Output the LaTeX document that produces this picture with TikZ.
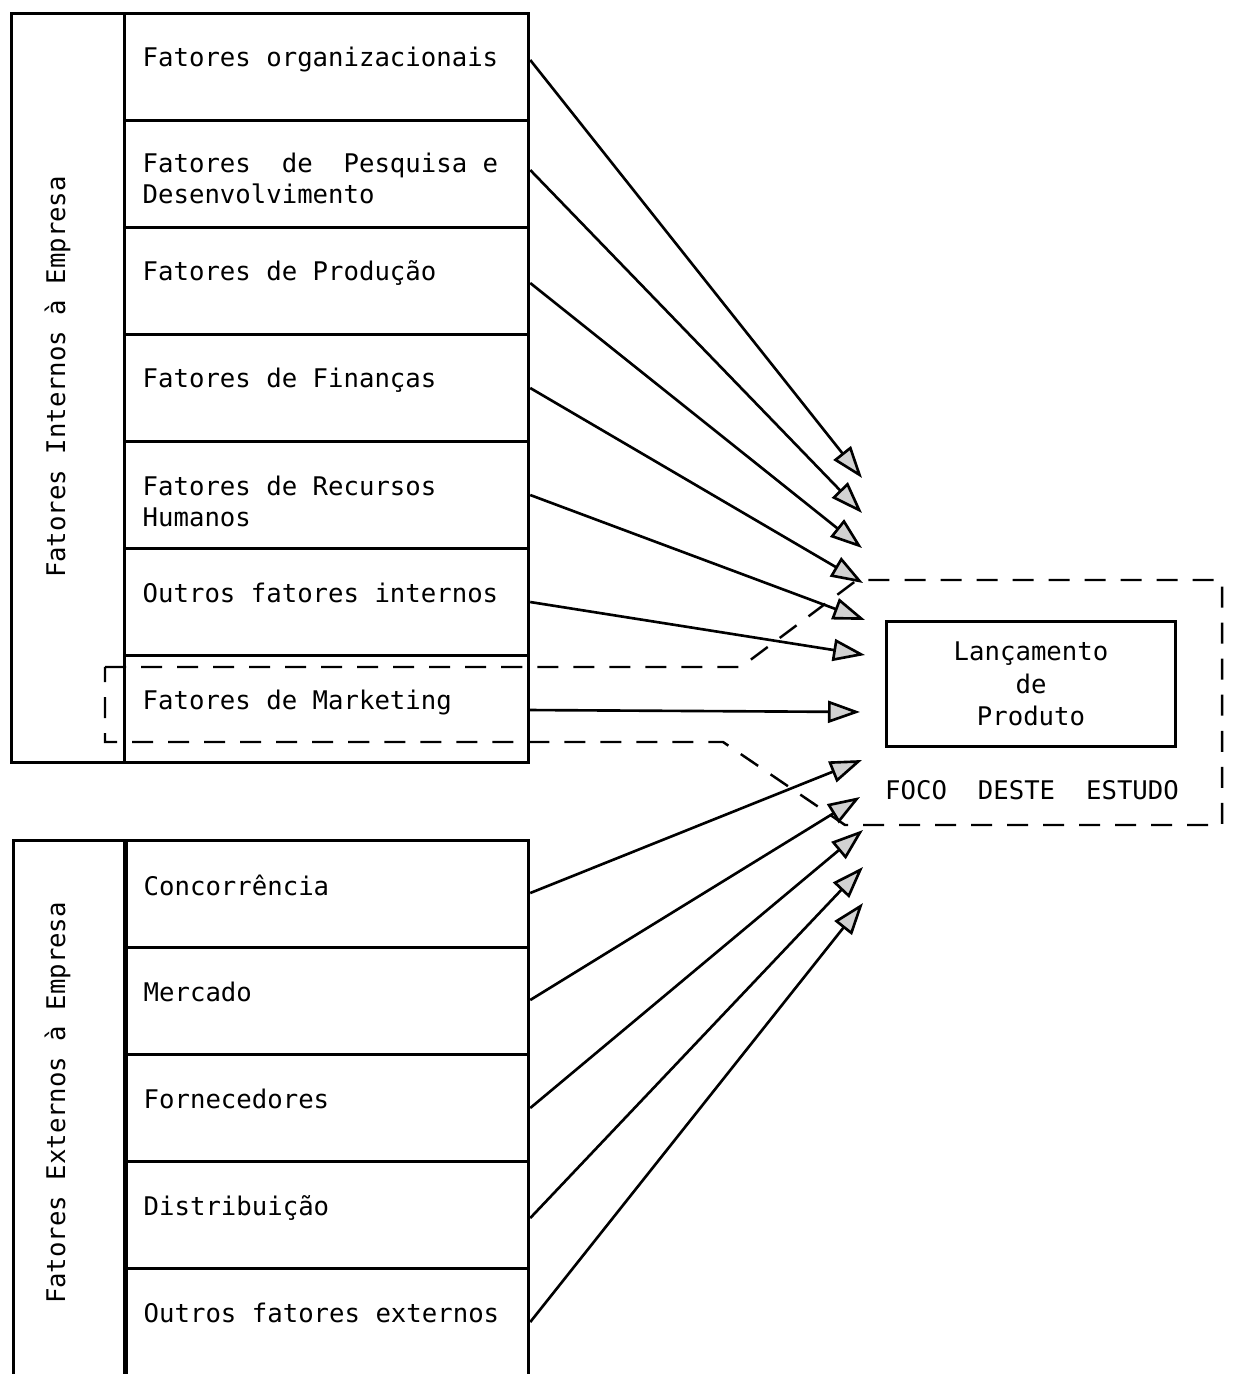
\documentclass[tikz,border=0pt]{standalone}
\usepackage{fontspec}
\setmonofont{DejaVu Sans Mono}
\usetikzlibrary{arrows.meta}

\tikzset{
  cell/.style={draw, line width=0.85pt, anchor=north west, inner sep=0pt,
    minimum width=4.04cm, minimum height=1.07cm},
  grpbox/.style={draw, line width=0.85pt, anchor=north west, inner sep=0pt,
    minimum width=1.13cm},
  txt/.style={font=\ttfamily\fontsize{7.3}{8.8}\selectfont, inner sep=0pt,
    anchor=north west, align=left},
  grplabel/.style={font=\ttfamily\fontsize{7.3}{8.8}\selectfont, inner sep=0pt,
    rotate=90, anchor=base},
  fator/.style={line width=0.75pt,
    -{Triangle[length=0.32cm, width=0.22cm, fill=gray!35, line width=0.75pt]}},
  foco/.style={line width=0.7pt, dash pattern=on 0.21cm off 0.15cm},
}

\begin{document}
\begin{tikzpicture}[x=0.01cm, y=-0.01cm]
  \useasboundingbox (0,0) rectangle (1232,1374);

  % fatores internos
  \node[grpbox, minimum height=7.49cm] (intern) at (10,12) {};
  \node[grplabel] (intlbl) at (65,377) {Fatores Internos à Empresa};
  \node[cell] (c1) at (123,12)  {};
  \node[cell] (c2) at (123,119) {};
  \node[cell] (c3) at (123,226) {};
  \node[cell] (c4) at (123,333) {};
  \node[cell] (c5) at (123,440) {};
  \node[cell] (c6) at (123,547) {};
  \node[cell] (c7) at (123,654) {};
  \node[txt] (t1) at ([xshift=0.19cm, yshift=-0.34cm]c1.north west) {Fatores organizacionais};
  \node[txt] (t2) at ([xshift=0.19cm, yshift=-0.33cm]c2.north west) {Fatores~~de~~Pesquisa e\\Desenvolvimento};
  \node[txt] (t3) at ([xshift=0.19cm, yshift=-0.34cm]c3.north west) {Fatores de Produção};
  \node[txt] (t4) at ([xshift=0.19cm, yshift=-0.34cm]c4.north west) {Fatores de Finanças};
  \node[txt] (t5) at ([xshift=0.19cm, yshift=-0.35cm]c5.north west) {Fatores de Recursos\\Humanos};
  \node[txt] (t6) at ([xshift=0.19cm, yshift=-0.35cm]c6.north west) {Outros fatores internos};
  \node[txt] (t7) at ([xshift=0.19cm, yshift=-0.35cm]c7.north west) {Fatores de Marketing};

  % fatores externos
  \node[grpbox, minimum height=5.35cm] (extern) at (12,839) {};
  \node[grplabel] (extlbl) at (65,1103) {Fatores Externos à Empresa};
  \node[cell] (e1) at (123,839)  {};
  \node[cell] (e2) at (123,946)  {};
  \node[cell] (e3) at (123,1053) {};
  \node[cell] (e4) at (123,1160) {};
  \node[cell] (e5) at (123,1267) {};
  \node[txt] (s1) at ([xshift=0.2cm, yshift=-0.35cm]e1.north west) {Concorrência};
  \node[txt] (s2) at ([xshift=0.2cm, yshift=-0.35cm]e2.north west) {Mercado};
  \node[txt] (s3) at ([xshift=0.2cm, yshift=-0.35cm]e3.north west) {Fornecedores};
  \node[txt] (s4) at ([xshift=0.2cm, yshift=-0.35cm]e4.north west) {Distribuição};
  \node[txt] (s5) at ([xshift=0.2cm, yshift=-0.35cm]e5.north west) {Outros fatores externos};

  % lancamento
  \node[draw, line width=0.85pt, minimum width=2.88cm, minimum height=1.24cm,
    font=\ttfamily\fontsize{7.3}{9.2}\selectfont, align=center] (lanc) at (1031,684)
    {Lançamento\\de\\Produto};
  \node[txt, anchor=center] (estudo) at (1032,790) {FOCO~~DESTE~~ESTUDO};

  % foco (dashed)
  \coordinate (mk1) at (105,667);
  \coordinate (mk2) at (741,667);
  \coordinate (fc1) at (857,580);
  \coordinate (fc2) at (1222,580);
  \coordinate (fc3) at (1222,825);
  \coordinate (fc4) at (845,825);
  \coordinate (mk3) at (723,742);
  \coordinate (mk4) at (105,742);
  \draw[foco] (mk1) -- (mk2) -- (fc1) -- (fc2) -- (fc3) -- (fc4) -- (mk3) -- (mk4) -- cycle;

  % arrow tips
  \coordinate (tip1)  at (862,478);
  \coordinate (tip2)  at (862,513);
  \coordinate (tip3)  at (862,548);
  \coordinate (tip4)  at (863,583);
  \coordinate (tip5)  at (865,620);
  \coordinate (tip6)  at (865,655);
  \coordinate (tip7)  at (860,712);
  \coordinate (tip8)  at (862,760);
  \coordinate (tip9)  at (860,797);
  \coordinate (tip10) at (863,830);
  \coordinate (tip11) at (863,867);
  \coordinate (tip12) at (863,903);

  \draw[fator] ([yshift=-0.48cm]c1.north east) -- (tip1);
  \draw[fator] ([yshift=-0.51cm]c2.north east) -- (tip2);
  \draw[fator] ([yshift=-0.57cm]c3.north east) -- (tip3);
  \draw[fator] ([yshift=-0.55cm]c4.north east) -- (tip4);
  \draw[fator] ([yshift=-0.55cm]c5.north east) -- (tip5);
  \draw[fator] ([yshift=-0.55cm]c6.north east) -- (tip6);
  \draw[fator] ([yshift=-0.56cm]c7.north east) -- (tip7);
  \draw[fator] ([yshift=-0.54cm]e1.north east) -- (tip8);
  \draw[fator] ([yshift=-0.54cm]e2.north east) -- (tip9);
  \draw[fator] ([yshift=-0.55cm]e3.north east) -- (tip10);
  \draw[fator] ([yshift=-0.58cm]e4.north east) -- (tip11);
  \draw[fator] ([yshift=-0.55cm]e5.north east) -- (tip12);
\end{tikzpicture}
\end{document}
